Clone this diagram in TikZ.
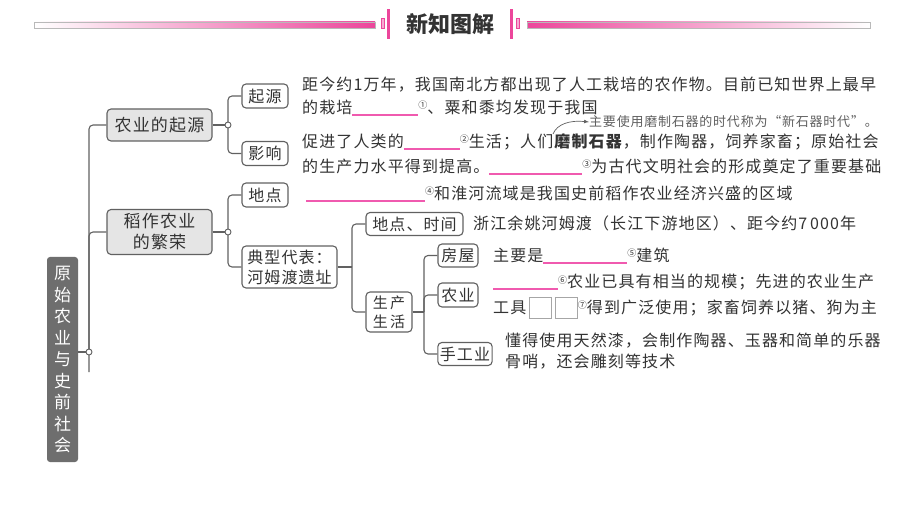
\documentclass[tikz,border=0pt]{standalone}
\usepackage{fontspec}
\setmainfont[LetterSpace=7]{Noto Sans CJK SC}
\newfontfamily\notefont[LetterSpace=6]{Noto Sans CJK SC}
\newfontfamily\headfont{Noto Sans CJK SC}
\usepackage{tikz}
\tikzset{>=latex}
\definecolor{ink}{gray}{.2}
\definecolor{lnk}{gray}{.38}
\definecolor{boxfill}{gray}{.9}
\definecolor{rootfill}{gray}{.43}
\definecolor{hpink}{RGB}{236,70,155}
\definecolor{mpink}{RGB}{242,135,192}
\definecolor{lpink}{RGB}{246,170,210}
\definecolor{bpink}{RGB}{240,90,175}
\newcommand*{\blank}[1]{{\color{bpink}\rule[-2pt]{#1}{2pt}}}
\newcommand*{\cn}[1]{\raisebox{5pt}{\fontsize{9}{9}\selectfont #1}}
\newcommand*{\sqbox}{{\color{gray!70}\setlength{\fboxsep}{0pt}\setlength{\fboxrule}{0.6pt}\raisebox{-5pt}{\framebox[23pt]{\rule{0pt}{20pt}}}}}
\tikzset{
  lbl/.style={draw=lnk, line width=1.1pt, rounded corners=4pt, fill=white, text=ink,
    inner sep=2pt, font=\fontsize{16}{20}\selectfont},
  graylbl/.style={lbl, fill=boxfill, font=\fontsize{17}{21}\selectfont, align=center},
  rootlbl/.style={fill=rootfill, rounded corners=3pt, text=white, inner sep=0pt,
    minimum width=31pt, minimum height=205pt, align=center,
    font=\fontsize{17}{21.5}\selectfont},
  txt/.style={anchor=base west, inner sep=0pt, text=ink, font=\fontsize{16}{20}\selectfont},
  conn/.style={draw=lnk, line width=1.1pt, rounded corners=4pt},
  jdot/.style={circle, draw=lnk, line width=0.9pt, fill=white, inner sep=0pt, minimum size=6pt}
}

\begin{document}
\begin{tikzpicture}[x=1pt, y=-1pt]
    \useasboundingbox (0,0) rectangle (920,518);
    \fill[white] (0,0) rectangle (920,518);
    \shade[left color=white, middle color=mpink, right color=hpink] (34,22) rectangle (375,28);
    \draw[gray!55, line width=0.6pt] (34,22) rectangle (375,28);
    \shade[left color=hpink, middle color=mpink, right color=white] (527,22) rectangle (870,28);
    \draw[gray!55, line width=0.6pt] (527,22) rectangle (870,28);
    \draw[hpink, fill=lpink, line width=0.6pt] (381,18) rectangle (384,28);
    \fill[hpink] (387,9) rectangle (390,39);
    \fill[hpink] (510,9) rectangle (513,39);
    \draw[hpink, fill=lpink, line width=0.6pt] (516,18) rectangle (519,28);
    \node[text=ink, font=\headfont\fontsize{22}{24}\selectfont\bfseries] (title) at (450,24) {新知图解};

    \node[rootlbl] (root) at (62.5,359.5) {原\\始\\农\\业\\与\\史\\前\\社\\会};
    \node[graylbl, minimum width=105pt, minimum height=32pt] (nyqy) at (159.5,125) {农业的起源};
    \node[graylbl, minimum width=105pt, minimum height=45pt] (dzny) at (159.5,232) {稻作农业\\的繁荣};
    \node[lbl, minimum width=46pt, minimum height=24pt] (qiyuan) at (265,96) {起源};
    \node[lbl, minimum width=46pt, minimum height=24pt] (yingxiang) at (265,153.5) {影响};
    \node[lbl, minimum width=46pt, minimum height=24pt] (didian) at (265,195) {地点};
    \node[lbl, minimum width=95pt, minimum height=42pt, align=left] (dxdb) at (289.5,267) {典型代表：\\河姆渡遗址};
    \node[lbl, minimum width=97pt, minimum height=23pt] (ddsj) at (414.5,224) {地点、时间};
    \node[lbl, minimum width=46pt, minimum height=40pt, align=center,
      font=\fontsize{15}{19}\selectfont] (scsh) at (389,312) {生\,产\\生\,活};
    \node[lbl, minimum width=40pt, minimum height=23pt] (fangwu) at (458,255.5) {房屋};
    \node[lbl, minimum width=40pt, minimum height=24pt] (nongye) at (458,295) {农业};
    \node[lbl, minimum width=54pt, minimum height=23pt] (sgy) at (465,354) {手工业};

    \coordinate (j0) at (89,352);
    \coordinate (j0end) at (89,372);
    \coordinate (j1) at (228,125);
    \coordinate (j2) at (228,232);
    \coordinate (j3) at (352,267);
    \coordinate (j4) at (424,312);
    \draw[conn] (root.east|-j0) -- (j0);
    \draw[conn] (j0end) -- (j0) |- (nyqy.west);
    \draw[conn] (j0) |- (dzny.west);
    \draw[conn] (nyqy.east) -- (j1);
    \draw[conn] (j1) |- (qiyuan.west);
    \draw[conn] (j1) |- (yingxiang.west);
    \draw[conn] (dzny.east) -- (j2);
    \draw[conn] (j2) |- (didian.west);
    \draw[conn] (j2) |- (dxdb.west);
    \draw[conn] (dxdb.east) -- (j3);
    \draw[conn] (j3) |- (ddsj.west);
    \draw[conn] (j3) |- (scsh.west);
    \draw[conn] (scsh.east) -- (j4);
    \draw[conn] (j4) |- (fangwu.west);
    \draw[conn] (j4) |- (nongye.west);
    \draw[conn] (j4) |- (sgy.west);
    \node[jdot] (d0) at (j0) {};
    \node[jdot] (d1) at (j1) {};
    \node[jdot] (d2) at (j2) {};

    \node[txt] (qy1) at (302,91) {距今约1万年，我国南北方都出现了人工栽培的农作物。目前已知世界上最早};
    \node[txt] (qy2) at (302,114) {的栽培\blank{66pt}\cn{①}、粟和黍均发现于我国};
    \node[anchor=west, inner sep=0pt, text=gray!75!black, font=\notefont\fontsize{13}{15}\selectfont]
      (note) at (589,122) {主要使用磨制石器的时代称为“新石器时代”。};
    \node[txt] (yx1) at (302,148) {促进了人类的\blank{56pt}\cn{②}生活；人们\textbf{磨制石器}，制作陶器，饲养家畜；原始社会};
    \node[txt] (yx2) at (302,173) {的生产力水平得到提高。\blank{93pt}\cn{③}为古代文明社会的形成奠定了重要基础};
    \coordinate (mz) at (553,134);
    \draw[->, lnk, line width=0.7pt] (mz) .. controls (557,124) and (570,120) .. (note.west);
    \node[txt] (dd) at (306,200) {\blank{119pt}\cn{④}和淮河流域是我国史前稻作农业经济兴盛的区域};
    \node[txt] (sj) at (473,230) {浙江余姚河姆渡（长江下游地区）、距今约7\,000年};
    \node[txt] (fw) at (493,262) {主要是\blank{84pt}\cn{⑤}建筑};
    \node[txt] (ny1) at (493,288) {\blank{65pt}\cn{⑥}农业已具有相当的规模；先进的农业生产};
    \node[txt] (ny2) at (493,313) {工具\,\sqbox\hspace{3pt}\sqbox\cn{⑦}得到广泛使用；家畜饲养以猪、狗为主};
    \node[txt] (sg1) at (505,346) {懂得使用天然漆，会制作陶器、玉器和简单的乐器};
    \node[txt] (sg2) at (505,367) {骨哨，还会雕刻等技术};
\end{tikzpicture}
\end{document}
